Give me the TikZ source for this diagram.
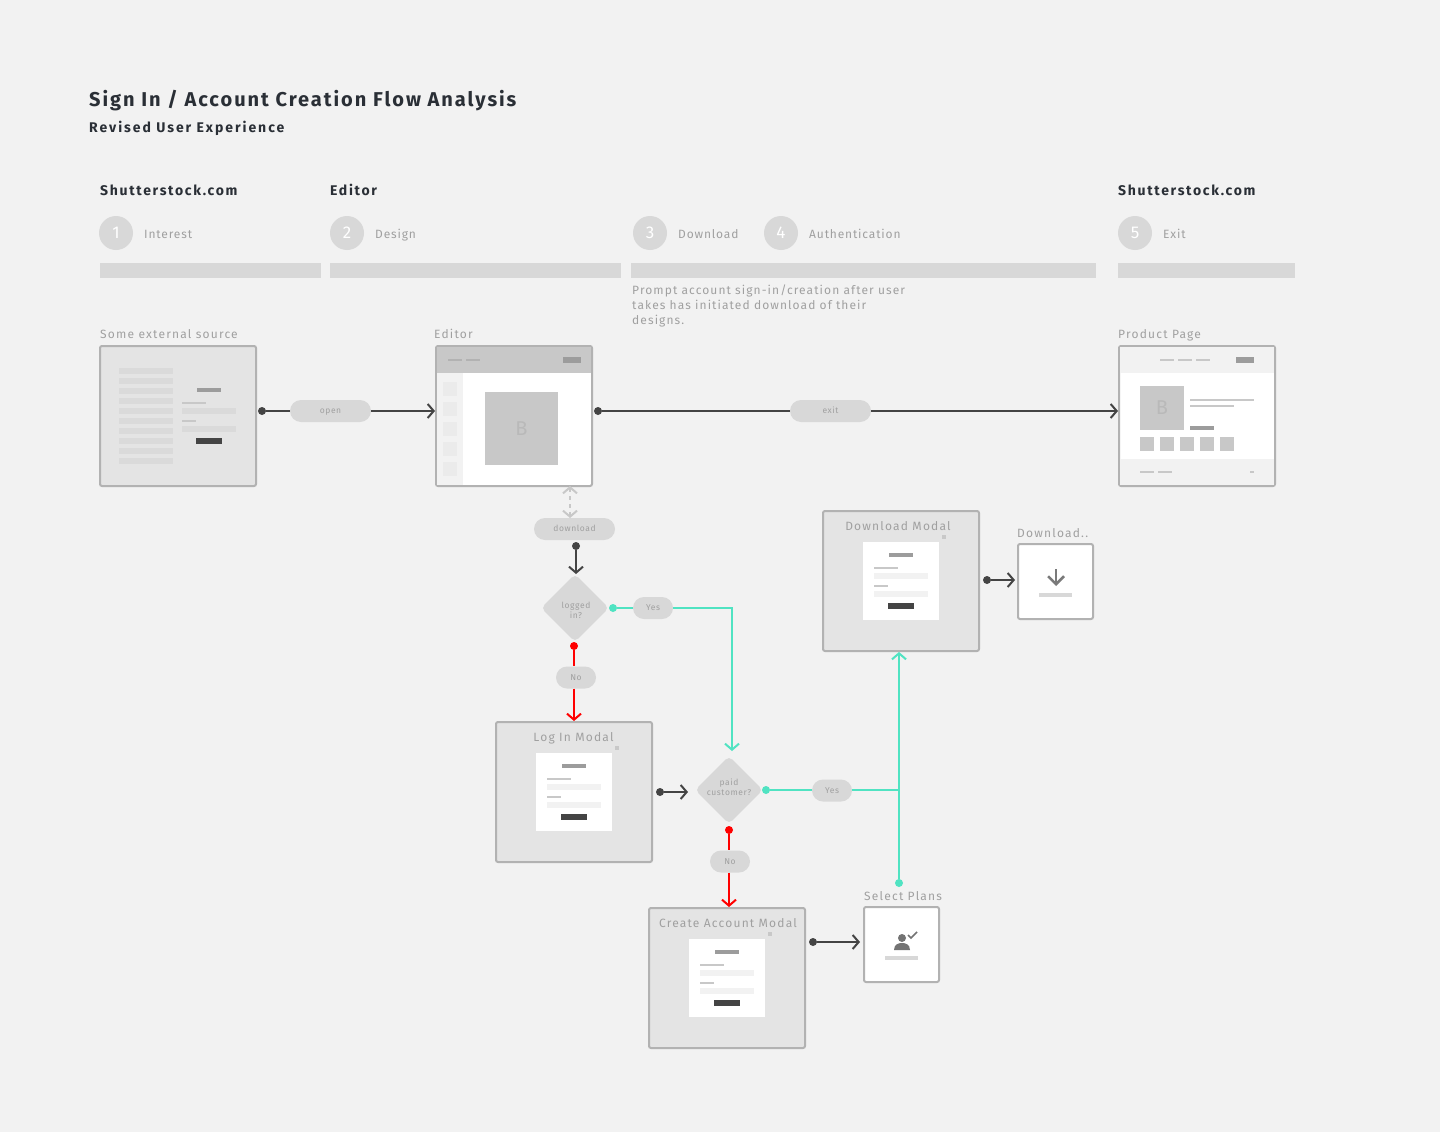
\documentclass[tikz,border=0pt]{standalone}
\usepackage{fontspec}
\setmainfont[LetterSpace=7]{Fira Sans}
\newfontfamily\titlefont[LetterSpace=9.8]{Fira Sans}
\newfontfamily\subfont[LetterSpace=12]{Fira Sans}
\newfontfamily\revisedfont[LetterSpace=14]{Fira Sans}
\newfontfamily\labelfont[LetterSpace=10]{Fira Sans}
\newfontfamily\notefont[LetterSpace=9]{Fira Sans}
\usepackage{xcolor}
\definecolor{pagebg}{HTML}{F2F2F2}
\definecolor{inkdark}{HTML}{2A2F36}
\definecolor{inkgray}{HTML}{A0A0A0}
\definecolor{pillgray}{HTML}{D8D8D8}
\definecolor{boxgray}{HTML}{E4E4E4}
\definecolor{edgegray}{HTML}{B2B2B2}
\definecolor{midgray}{HTML}{C8C8C8}
\definecolor{knobgray}{HTML}{9C9C9C}
\definecolor{flowdark}{HTML}{444444}
\definecolor{flowteal}{HTML}{50E3C2}
\usetikzlibrary{positioning}
\usetikzlibrary{arrows.meta}
\tikzset{
  pagetitle/.style={anchor=base west,inner sep=0pt,text=inkdark,font=\titlefont\bfseries\fontsize{20}{24}\selectfont},
  pagesub/.style={anchor=base west,inner sep=0pt,text=inkdark,font=\subfont\bfseries\fontsize{14}{17}\selectfont},
  steptext/.style={anchor=base west,inner sep=0pt,text=inkgray,font=\fontsize{12}{15}\selectfont},
  boxlabel/.style={anchor=base west,inner sep=0pt,text=inkgray,font=\labelfont\fontsize{12}{15}\selectfont},
  stepdisc/.style={circle,fill=pillgray,inner sep=0pt,minimum size=34pt,text=white,font=\fontsize{17}{20}\selectfont},
  stepbar/.style={fill=pillgray},
  thumb/.style={draw=edgegray,line width=2pt,rounded corners=2pt,inner sep=0pt,minimum width=156pt,minimum height=140pt},
  smallthumb/.style={draw=edgegray,line width=2pt,rounded corners=2pt,inner sep=0pt,minimum size=75pt,fill=white},
  flowdot/.style={circle,inner sep=0pt,minimum size=8pt,fill=#1},
  flowpill/.style={rectangle,rounded corners=11pt,fill=pillgray,inner sep=0pt,minimum height=22pt,minimum width=#1,
    text=inkgray,text height=5pt,text depth=0pt,font=\fontsize{8.5}{10}\selectfont},
  decision/.style={rectangle,rotate=45,rounded corners=5pt,fill=pillgray,inner sep=0pt,minimum size=48pt},
  decisiontext/.style={inner sep=0pt,align=center,text=inkgray,font=\fontsize{8.5}{10}\selectfont},
  flowline/.style={line width=2pt,draw=#1},
}
% the little sign-in form used in every modal
\newcommand{\formthumb}[3]{
  \fill[knobgray] (#1+26,#2+11) rectangle +(24,4);
  \fill[midgray] (#1+11,#2+25) rectangle +(24,2);
  \fill[#3] (#1+11,#2+31) rectangle +(54,6);
  \fill[midgray] (#1+11,#2+43) rectangle +(14,2);
  \fill[#3] (#1+11,#2+49) rectangle +(54,6);
  \fill[flowdark] (#1+25,#2+61) rectangle +(26,6);
}
\newcommand{\modalbox}[5]{
  \node (#1) at (#2+78,#3+70) [thumb,fill=boxgray]{};
  \node (#1-title) at (#5,#3+19.5) [boxlabel,anchor=base]{#4};
  \fill[midgray] (#2+119,#3+24) rectangle +(4,4);
  \fill[white] (#2+40,#3+31) rectangle +(76,78);
  \formthumb{#2+40}{#3+31}{pagebg}
}
\begin{document}
\begin{tikzpicture}[x=1pt,y=-1pt,>={Straight Barb[length=6pt,width=14pt]}]
\fill[pagebg] (0,0) rectangle (1440,1132);
\useasboundingbox (0,0) rectangle (1440,1132);

% headings
\node (maintitle) at (89,106) [pagetitle]{Sign In / Account Creation Flow Analysis};
\node (subtitle) at (89,132) [pagesub,font=\revisedfont\bfseries\fontsize{14}{17}\selectfont]{Revised User Experience};
\node (headsite) at (100,195) [pagesub]{Shutterstock.com};
\node (headeditor) at (330,195) [pagesub]{Editor};
\node (headexit) at (1118,195) [pagesub]{Shutterstock.com};

% steps
\foreach \n/\cx/\word in {1/116/Interest,2/347/Design,3/650/Download,4/781/Authentication,5/1135/Exit}{
  \node (stepdisc\n) at (\cx,233) [stepdisc]{\n};
  \node (steptext\n) at (\cx+28,238) [steptext]{\word};
}
\fill[stepbar] (100,263) rectangle (321,278);
\fill[stepbar] (330,263) rectangle (621,278);
\fill[stepbar] (631,263) rectangle (1096,278);
\fill[stepbar] (1118,263) rectangle (1295,278);
\node (promptnote) at (632,285) [boxlabel,anchor=north west,align=left,font=\notefont\fontsize{12}{15}\selectfont]
  {Prompt account sign-in/creation after user\\takes has initiated download of their\\designs.};

% external source
\node (sourcelabel) at (100,338) [boxlabel]{Some external source};
\node (source) at (178,416) [thumb,fill=boxgray]{};
\foreach \row in {0,...,9}{
  \fill[pillgray!85!boxgray] (119,368+10*\row) rectangle +(54,6);
}
\formthumb{171}{377}{pillgray!85!boxgray}

% editor
\node (editorlabel) at (434,338) [boxlabel]{Editor};
\node (editor) at (514,416) [thumb,fill=white]{};
\fill[midgray] (437,347) rectangle (591,373);
\fill[pagebg] (437,373) rectangle (463,485);
\foreach \row in {0,...,4}{
  \fill[boxgray!50!pagebg] (443,382+20*\row) rectangle +(14,14);
}
\fill[edgegray] (448,359) rectangle +(14,2);
\fill[edgegray] (466,359) rectangle +(14,2);
\fill[knobgray] (563,357) rectangle +(18,6);
\node (editorcanvas) at (521.5,428.5) [fill=midgray,inner sep=0pt,minimum size=73pt,text=edgegray!70!midgray,font=\fontsize{20}{22}\selectfont]{B};

% product page
\node (productlabel) at (1118,338) [boxlabel]{Product Page};
\node (product) at (1197,416) [thumb,fill=white]{};
\fill[pagebg] (1120,347) rectangle (1274,373);
\fill[pagebg] (1120,459) rectangle (1274,485);
\foreach \cx in {1160,1178,1196}{
  \fill[midgray] (\cx,359) rectangle +(14,2);
}
\fill[knobgray] (1236,357) rectangle +(18,6);
\node (productshot) at (1162,408) [fill=midgray,inner sep=0pt,minimum size=44pt,text=edgegray!70!midgray,font=\fontsize{20}{22}\selectfont]{B};
\fill[midgray] (1190,399) rectangle +(64,2);
\fill[midgray] (1190,405) rectangle +(44,2);
\fill[knobgray] (1190,426) rectangle +(24,4);
\foreach \col in {0,...,4}{
  \fill[midgray] (1140+20*\col,437) rectangle +(14,14);
}
\fill[midgray] (1140,471) rectangle +(14,2);
\fill[midgray] (1158,471) rectangle +(14,2);
\fill[midgray] (1250,471) rectangle +(4,2);

% modals
\modalbox{loginmodal}{496}{722}{Log In Modal}{573.5}
\modalbox{createmodal}{649}{908}{Create Account Modal}{728}
\modalbox{downloadmodal}{823}{511}{Download Modal}{898}

% download result
\node (resultlabel) at (1017,537) [boxlabel]{Download..};
\node (result) at (1055.5,581.5) [smallthumb]{};
\draw[line width=2.5pt,draw=black!52,-{Straight Barb[length=8pt,width=16pt]}] (1056,569) -- (1056,586);
\fill[pillgray] (1039,593) rectangle +(33,4);

% select plans
\node (planslabel) at (864,900) [boxlabel]{Select Plans};
\node (plans) at (901.5,944.5) [smallthumb]{};
\fill[black!55] (902,938) circle (4pt);
\fill[black!55] (894,950) .. controls (894,944) and (899,943) .. (902,943) .. controls (905,943) and (910,944) .. (910,950) -- cycle;
\draw[line width=1.5pt,draw=black!55] (908,935) -- (911,938) -- (917,932);
\fill[pillgray] (885,956) rectangle +(33,4);

% pills and decisions
\node (openpill) at (330.5,411) [flowpill=81pt]{open};
\node (exitpill) at (830.5,411) [flowpill=81pt]{exit};
\node (downloadpill) at (574.5,529) [flowpill=81pt]{download};
\node (loggedin) at (575,608) [decision]{};
\node (loggedintext) at (576,610) [decisiontext]{logged\\in?};
\node (yesloggedpill) at (653,608) [flowpill=40pt]{Yes};
\node (nologgedpill) at (576,677.5) [flowpill=40pt]{No};
\node (paid) at (729,790) [decision]{};
\node (paidtext) at (729,787) [decisiontext]{paid\\customer?};
\node (yespaidpill) at (832,790.5) [flowpill=40pt]{Yes};
\node (nopaidpill) at (730,861.5) [flowpill=40pt]{No};

% connector ends
\node (opendot) at (262,411) [flowdot=flowdark]{};
\node (exitdot) at (598,411) [flowdot=flowdark]{};
\node (downloaddot) at (576,546) [flowdot=flowdark]{};
\node (yesloggeddot) at (613,608) [flowdot=flowteal]{};
\node (nologgeddot) at (574,646) [flowdot=red]{};
\node (logindot) at (660,792) [flowdot=flowdark]{};
\node (yespaiddot) at (766,790) [flowdot=flowteal]{};
\node (nopaiddot) at (729,830) [flowdot=red]{};
\node (createdot) at (813,942) [flowdot=flowdark]{};
\node (plansdot) at (899,883) [flowdot=flowteal]{};
\node (modaldot) at (987,580) [flowdot=flowdark]{};
\coordinate (editortop) at (570,486);
\coordinate (editorbot) at (570,518);
\coordinate (loggedtip) at (576,574);
\coordinate (yesturn) at (732,608);
\coordinate (paidtop) at (732,751);
\coordinate (paidin) at (688,792);
\coordinate (plansjoin) at (899,790);
\coordinate (plansin) at (860,942);
\coordinate (resultin) at (1015,580);

% connectors
\draw[flowline=flowdark] (opendot) -- (openpill);
\draw[flowline=flowdark,->] (openpill) -- (openpill -| editor.west);
\draw[flowline=flowdark] (exitdot) -- (exitpill);
\draw[flowline=flowdark,->] (exitpill) -- (exitpill -| product.west);
\draw[line width=2pt,draw=midgray,dash pattern=on 4pt off 4pt,<->] (editortop) -- (editorbot);
\draw[flowline=flowdark,->] (downloaddot) -- (loggedtip);
\draw[flowline=flowteal] (yesloggeddot) -- (yesloggedpill);
\draw[flowline=flowteal,->] (yesloggedpill) -- (yesturn) -- (paidtop);
\draw[flowline=red] (nologgeddot) -- (nologgeddot |- nologgedpill.north);
\draw[flowline=red,->] (nologgeddot |- nologgedpill.south) -- (nologgeddot |- loginmodal.north);
\draw[flowline=flowdark,->] (logindot) -- (paidin);
\draw[flowline=flowteal] (yespaiddot) -- (yespaidpill.west |- yespaiddot);
\draw[flowline=flowteal] (yespaidpill.east |- plansjoin) -- (plansjoin);
\draw[flowline=flowteal,->] (plansdot) -- (plansdot |- downloadmodal.south);
\draw[flowline=red] (nopaiddot) -- (nopaiddot |- nopaidpill.north);
\draw[flowline=red,->] (nopaiddot |- nopaidpill.south) -- (nopaiddot |- createmodal.north);
\draw[flowline=flowdark,->] (createdot) -- (plansin);
\draw[flowline=flowdark,->] (modaldot) -- (resultin);
\end{tikzpicture}
\end{document}
